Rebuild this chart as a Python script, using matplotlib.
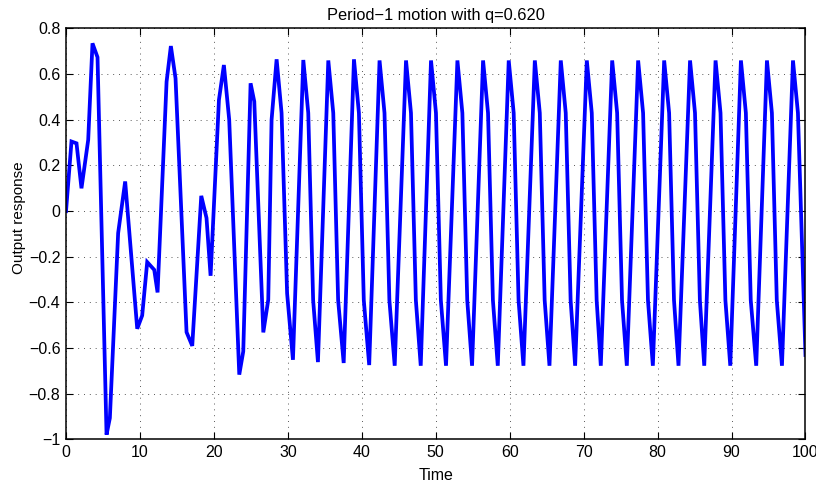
import numpy as np
import matplotlib
matplotlib.use('Agg')
import matplotlib.pyplot as plt

plt.rcParams['font.family'] = ['Liberation Sans', 'DejaVu Sans']

# Output response samples (time, value)
time = [0.00, 0.74, 1.42, 2.09, 3.00, 3.58, 4.26, 5.48, 5.93, 7.05,
        8.00, 9.63, 10.30, 10.98, 11.93, 12.38, 13.60, 14.18, 14.81, 16.30,
        17.07, 18.29, 19.00, 19.55, 20.68, 21.35, 22.07, 23.43, 23.97, 24.96,
        25.46, 26.68, 27.35, 27.80,
        28.48, 29.15, 29.90, 30.69,
        32.09, 32.76, 33.42, 34.07,
        35.47, 36.14, 36.80, 37.55,
        38.94, 39.61, 40.27, 41.00,
        42.40, 43.07, 43.73, 44.45,
        45.98, 46.65, 47.31, 47.97,
        49.36, 50.03, 50.69, 51.39,
        52.93, 53.60, 54.26, 54.91,
        56.40, 57.07, 57.73, 58.39,
        59.87, 60.54, 61.20, 61.86,
        63.40, 64.07, 64.73, 65.38,
        66.91, 67.58, 68.24, 68.85,
        70.43, 71.10, 71.76, 72.32,
        73.86, 74.53, 75.19, 75.84,
        77.37, 78.04, 78.70, 79.36,
        80.89, 81.56, 82.22, 82.83,
        84.39, 85.06, 85.72, 86.31,
        87.84, 88.51, 89.17, 89.83,
        91.27, 91.94, 92.60, 93.34,
        94.79, 95.46, 96.12, 96.82,
        98.31, 98.98, 100.00]

response = [0.000, 0.305, 0.297, 0.100, 0.312, 0.735, 0.674, -0.979, -0.906, -0.096,
            0.130, -0.515, -0.457, -0.223, -0.257, -0.356, 0.567, 0.723, 0.582, -0.530,
            -0.590, 0.067, -0.030, -0.283, 0.487, 0.640, 0.400, -0.716, -0.614, 0.560,
            0.480, -0.531, -0.388, 0.400,
            0.665, 0.43, -0.36, -0.651,
            0.662, 0.43, -0.39, -0.661,
            0.660, 0.43, -0.39, -0.665,
            0.665, 0.43, -0.39, -0.674,
            0.660, 0.43, -0.39, -0.677,
            0.660, 0.43, -0.39, -0.677,
            0.660, 0.43, -0.39, -0.677,
            0.660, 0.43, -0.39, -0.677,
            0.660, 0.43, -0.39, -0.677,
            0.660, 0.43, -0.39, -0.677,
            0.660, 0.43, -0.39, -0.677,
            0.660, 0.43, -0.39, -0.677,
            0.660, 0.43, -0.39, -0.677,
            0.660, 0.43, -0.39, -0.677,
            0.660, 0.43, -0.39, -0.677,
            0.660, 0.43, -0.39, -0.677,
            0.660, 0.43, -0.39, -0.677,
            0.660, 0.43, -0.39, -0.677,
            0.660, 0.43, -0.39, -0.677,
            0.660, 0.43, -0.39, -0.677,
            0.660, 0.43, -0.63]

xticks = [0, 10, 20, 30, 40, 50, 60, 70, 80, 90, 100]
yticks = [-1, -0.8, -0.6, -0.4, -0.2, 0, 0.2, 0.4, 0.6, 0.8]
ytick_labels = ['\u22121', '\u22120.8', '\u22120.6', '\u22120.4', '\u22120.2',
                '0', '0.2', '0.4', '0.6', '0.8']

fig = plt.figure(figsize=(8.16, 4.82), dpi=100)
ax = fig.add_axes([0.0809, 0.0882, 0.9062, 0.8527])

ax.plot(time, response, color=(0, 0, 1), lw=2.7, solid_joinstyle='miter')

ax.set_xlim(0, 100)
ax.set_ylim(-1, 0.8)
ax.set_xticks(xticks)
ax.set_xticklabels([str(v) for v in xticks])
ax.set_yticks(yticks)
ax.set_yticklabels(ytick_labels)

ax.set_axisbelow(True)
ax.grid(True, color='0.35', linestyle=(0, (1, 5)), lw=0.7)
ax.tick_params(direction='in', top=True, right=True, length=5, width=0.8,
               labelsize=11.5, pad=4)
for s in ax.spines.values():
    s.set_linewidth(1.1)

ax.set_title('Period\u22121 motion with q=0.620', fontsize=11.8, pad=6)
ax.set_xlabel('Time', fontsize=11.5, labelpad=6)
ax.set_ylabel('Output response', fontsize=11)
ax.yaxis.set_label_coords(-0.054, 0.54)

fig.savefig('out.png', dpi=100)
